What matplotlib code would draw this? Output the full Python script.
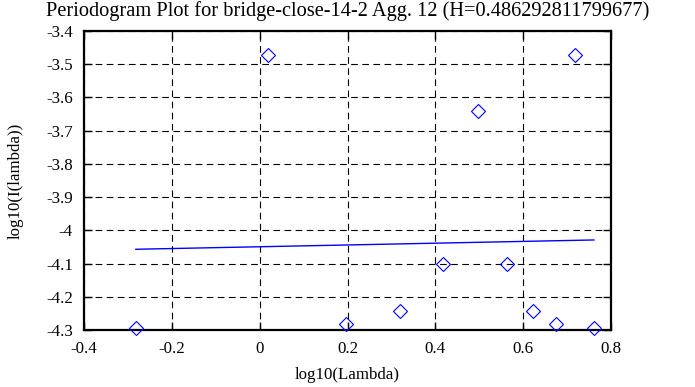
import matplotlib
matplotlib.use("Agg")
import matplotlib.pyplot as plt

# Periodogramm-Punkte (log10 Lambda, log10 I(lambda))
log_lambda = [-0.282, 0.019, 0.196, 0.320, 0.417, 0.497, 0.564, 0.622, 0.674, 0.719, 0.761]
log_i = [-4.294, -3.472, -4.283, -4.242, -4.101, -3.641, -4.101, -4.243, -4.283, -3.472, -4.293]

# Regressionsgerade (Endpunkte)
fit_x = [-0.282, 0.761]
fit_y = [-4.057, -4.029]

x_ticks = [-0.4, -0.2, 0, 0.2, 0.4, 0.6, 0.8]
x_labels = ["-0.4", "-0.2", "0", "0.2", "0.4", "0.6", "0.8"]
y_ticks = [-4.3, -4.2, -4.1, -4.0, -3.9, -3.8, -3.7, -3.6, -3.5, -3.4]
y_labels = ["-4.3", "-4.2", "-4.1", "-4", "-3.9", "-3.8", "-3.7", "-3.6", "-3.5", "-3.4"]

plt.rcParams['font.family'] = ['Liberation Serif', 'DejaVu Serif']
plt.rcParams['font.size'] = 12.2

fig = plt.figure(figsize=(6.95, 3.87), dpi=100)
ax = fig.add_axes([0.1209, 0.1473, 0.7583, 0.7726])

ax.plot(log_lambda, log_i, linestyle='none', marker='D', markersize=7,
        markerfacecolor='none', markeredgecolor='#0000ff', markeredgewidth=0.8,
        clip_on=False, zorder=3)
ax.plot(fit_x, fit_y, color='#0000ff', linewidth=1.0)

ax.set_xlim(-0.4, 0.8)
ax.set_ylim(-4.3, -3.4)
ax.set_xticks(x_ticks)
ax.set_xticklabels(x_labels)
ax.set_yticks(y_ticks)
ax.set_yticklabels(y_labels)

ax.grid(True, color='black', linestyle=(0, (6, 4)), linewidth=0.8)
ax.tick_params(direction='in', length=6, width=1, top=True, right=True)
ax.tick_params(axis='y', pad=8)
ax.tick_params(axis='x', pad=8)
for s in ax.spines.values():
    s.set_linewidth(1.6)

ax.set_xlabel('log10(Lambda)', labelpad=7)
ax.set_ylabel('log10(I(lambda))', labelpad=16)
ax.set_title('Periodogram Plot for bridge-close-14-2 Agg. 12 (H=0.486292811799677)', pad=11)

fig.savefig('out.png', dpi=100)
